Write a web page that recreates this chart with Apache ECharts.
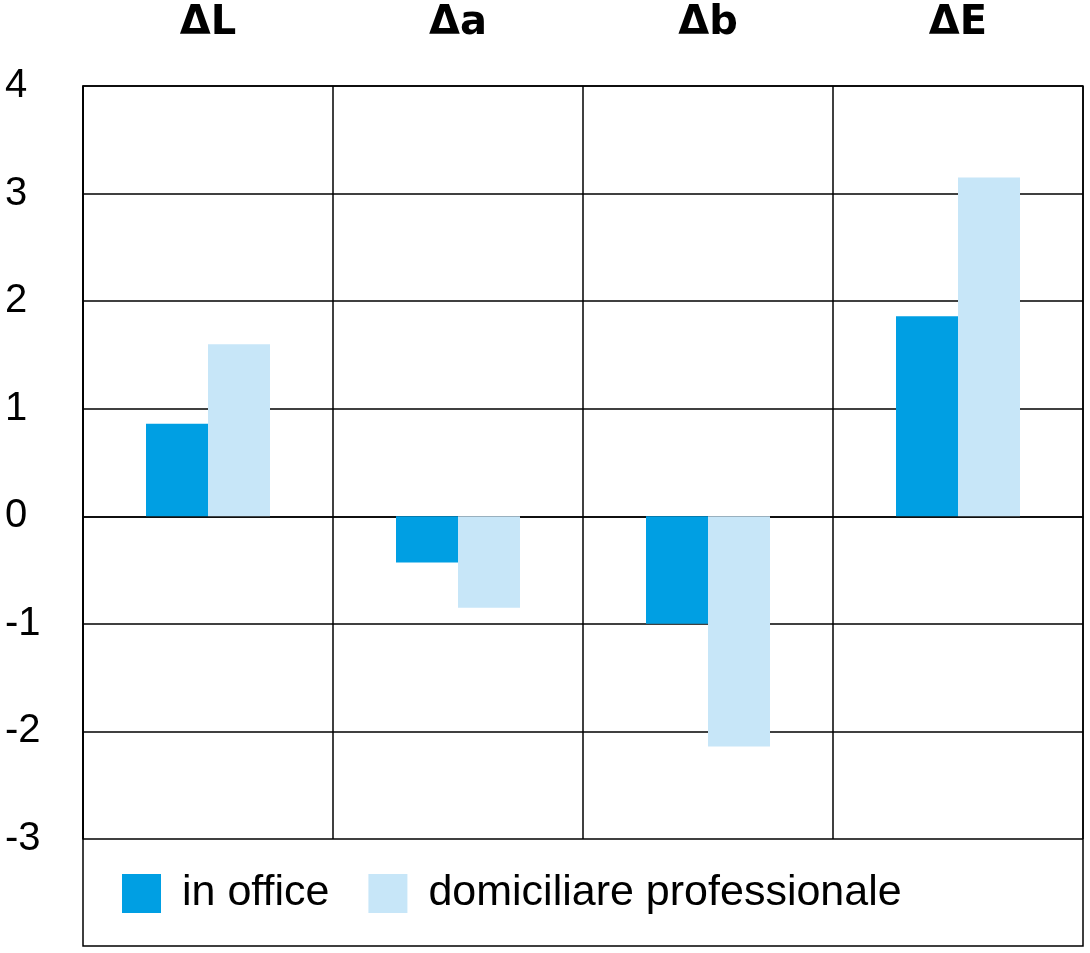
<!DOCTYPE html>
<html>
<head>
<meta charset="utf-8">
<script src="https://cdn.jsdelivr.net/npm/echarts@6/dist/echarts.min.js"></script>
<style>html,body{margin:0;padding:0;background:#fff}#c{width:1090px;height:953px}</style>
</head>
<body>
<div id="c"></div>
<script>
const categories = ['ΔL', 'Δa', 'Δb', 'ΔE'];
const seriesNames = ['in office', 'domiciliare professionale'];
const inOffice = [0.86, -0.43, -1.0, 1.86];
const domiciliare = [1.6, -0.85, -2.14, 3.15];
const yTicks = { min: -3, max: 4, interval: 1 };

const chart = echarts.init(document.getElementById('c'), null, { renderer: 'canvas' });
chart.setOption({
  animation: false,
  backgroundColor: '#fff',
  grid: { left: 83, right: 7, top: 86, bottom: 114, containLabel: false },
  xAxis: {
    type: 'category',
    position: 'top',
    data: categories,
    axisLine: { show: true, lineStyle: { color: '#000', width: 1.5 } },
    axisTick: { show: false },
    axisLabel: { color: '#000', fontSize: 40, fontWeight: 'bold', fontFamily: 'DejaVu Sans', margin: 42 },
    splitLine: { show: true, lineStyle: { color: '#000', width: 1.5 } }
  },
  yAxis: {
    type: 'value',
    min: yTicks.min, max: yTicks.max, interval: yTicks.interval,
    axisLine: { show: true, lineStyle: { color: '#000', width: 1.5 } },
    axisTick: { show: false },
    axisLabel: { color: '#000', fontSize: 40, fontFamily: 'Liberation Sans', align: 'left', margin: 78 },
    splitLine: { show: true, lineStyle: { color: '#000', width: 1.5 } }
  },
  legend: {
    data: seriesNames,
    left: 117, top: 867,
    itemWidth: 39, itemHeight: 39, itemGap: 39,
    icon: 'rect',
    textStyle: { color: '#000', fontSize: 43, fontFamily: 'Liberation Sans', padding: [0, 0, 0, 16] }
  },
  graphic: [{
    type: 'rect',
    shape: { x: 83, y: 86, width: 1000, height: 860 },
    style: { fill: 'none', stroke: '#000', lineWidth: 1.5 },
    silent: true
  }],
  series: [
    { name: seriesNames[0], type: 'bar', data: inOffice, barWidth: 62, barGap: '0%', itemStyle: { color: '#009FE3' } },
    { name: seriesNames[1], type: 'bar', data: domiciliare, barWidth: 62, barGap: '0%', itemStyle: { color: '#C7E6F8' } }
  ]
});
</script>
</body>
</html>
